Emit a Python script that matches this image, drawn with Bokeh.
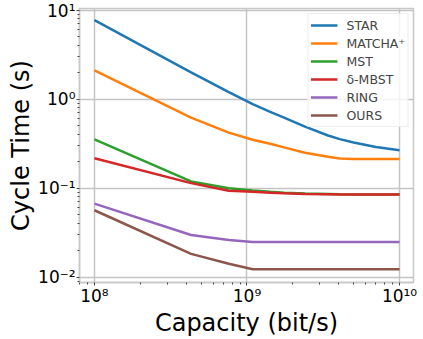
from bokeh.plotting import figure
from bokeh.embed import file_html
from bokeh.resources import INLINE
from bokeh.models import FixedTicker, CustomJSTickFormatter, Range1d

# ---- data ----
capacity = [1.0e8, 4.3e8, 7.6e8, 1.09e9, 1.42e9, 1.75e9, 2.4e9, 3.4e9, 4.06e9, 5.0e9, 7.0e9, 1.0e10]
star   = [7.7, 2.0, 1.2, 0.88, 0.72, 0.62, 0.49, 0.39, 0.355, 0.325, 0.29, 0.267]
matcha = [2.1, 0.62, 0.42, 0.35, 0.315, 0.287, 0.25, 0.225, 0.215, 0.213, 0.213, 0.213]
mst    = [0.353, 0.119, 0.100, 0.094, 0.091, 0.089, 0.087, 0.086, 0.0855, 0.085, 0.085, 0.085]
mbst   = [0.217, 0.114, 0.0935, 0.091, 0.089, 0.0875, 0.086, 0.0855, 0.085, 0.085, 0.085, 0.085]
ring   = [0.067, 0.0298, 0.0262, 0.0249, 0.0249, 0.0249, 0.0249, 0.0249, 0.0249, 0.0249, 0.0249, 0.0249]
ours   = [0.0565, 0.0183, 0.0142, 0.0123, 0.0123, 0.0123, 0.0123, 0.0123, 0.0123, 0.0123, 0.0123, 0.0123]

series_names = ["STAR", "MATCHA\u207a", "MST", "\u03b4-MBST", "RING", "OURS"]
series_colors = ["#1f77b4", "#ff7f0e", "#2ca02c", "#d62728", "#9467bd", "#8c564b"]

x_ticks = [1e8, 1e9, 1e10]
x_tick_labels = ["10\u2078", "10\u2079", "10\u00b9\u2070"]
y_ticks = [0.01, 0.1, 1.0, 10.0]
y_tick_labels = ["10\u207b\u00b2", "10\u207b\u00b9", "10\u2070", "10\u00b9"]

x_minor = [m * 10 ** e for e in (7, 8, 9, 10) for m in range(2, 10)]
y_minor = [m * 10.0 ** e for e in (-3, -2, -1, 0, 1) for m in range(2, 10)]

FONT = "DejaVu Sans"

p = figure(frame_width=334, frame_height=274, x_axis_type="log", y_axis_type="log",
           x_range=Range1d(7.98e7, 1.235e10), y_range=Range1d(0.00873, 10.4),
           output_backend="svg", toolbar_location=None,
           min_border_left=79, min_border_right=6, min_border_top=8, min_border_bottom=0)

series = [star, matcha, mst, mbst, ring, ours]
for name, color, ys in zip(series_names, series_colors, series):
    p.line(capacity, ys, line_color=color, line_width=2.5, legend_label=name)

fmt_code = """
const i = vals.findIndex(v => Math.abs(Math.log10(v) - Math.log10(tick)) < 1e-6);
return i >= 0 ? labs[i] : '';
"""
p.xaxis.ticker = FixedTicker(ticks=x_ticks, minor_ticks=x_minor)
p.yaxis.ticker = FixedTicker(ticks=y_ticks, minor_ticks=y_minor)
p.xaxis.formatter = CustomJSTickFormatter(args=dict(vals=x_ticks, labs=x_tick_labels), code=fmt_code)
p.yaxis.formatter = CustomJSTickFormatter(args=dict(vals=y_ticks, labs=y_tick_labels), code=fmt_code)

p.xaxis.axis_label = "Capacity (bit/s)"
p.yaxis.axis_label = "Cycle Time (s)"
for ax in (p.xaxis, p.yaxis):
    ax.axis_label_text_font = FONT
    ax.axis_label_text_font_size = "24px"
    ax.axis_label_text_font_style = "normal"
    ax.axis_label_text_color = "#000000"
    ax.axis_label_standoff = 0
    ax.axis_label_text_line_height = 1.0
    ax.major_label_text_font = FONT
    ax.major_label_text_font_size = "17px"
    ax.major_label_text_color = "#000000"
    ax.major_label_text_line_height = 1.0
    ax.major_label_standoff = 1
    ax.axis_line_color = "#c8c8c8"
    ax.axis_line_width = 1.5
    ax.major_tick_line_color = "#444444"
    ax.major_tick_out = 3
    ax.major_tick_in = 0
    ax.minor_tick_line_color = "#444444"
    ax.minor_tick_out = 2
    ax.minor_tick_in = 0
p.xaxis.major_label_standoff = 0

p.grid.grid_line_color = "#c4c4c4"
p.grid.grid_line_width = 1.5
p.outline_line_color = "#c8c8c8"
p.outline_line_width = 1.5

lg = p.legend[0]
lg.location = "top_right"
lg.margin = 5
lg.padding = 2
lg.spacing = 0
lg.label_text_font = FONT
lg.label_text_font_size = "12.5px"
lg.label_height = 18
lg.glyph_height = 18
lg.glyph_width = 27
lg.label_standoff = 9
lg.border_line_color = "#dddddd"
lg.border_line_width = 1
lg.background_fill_alpha = 0.8

open("out.html", "w").write(file_html(p, INLINE))
